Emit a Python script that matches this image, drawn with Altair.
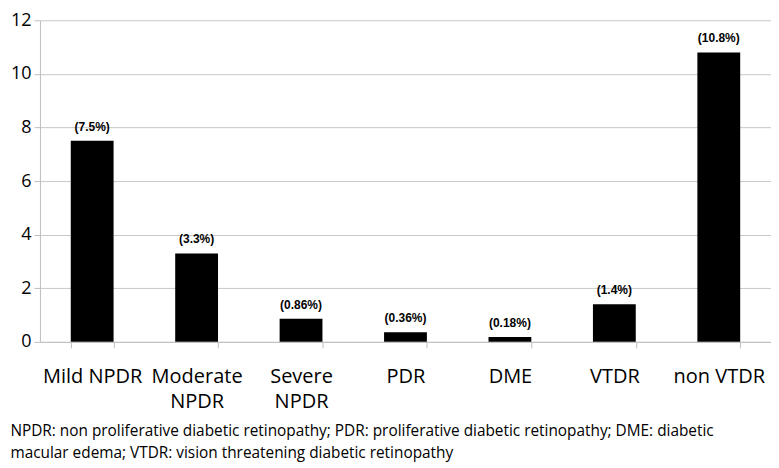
import altair as alt
import pandas as pd

categories = ["Mild NPDR", "Moderate|NPDR", "Severe|NPDR", "PDR", "DME", "VTDR", "non VTDR"]
values = [7.5, 3.3, 0.86, 0.36, 0.18, 1.4, 10.8]
labels = ["(7.5%)", "(3.3%)", "(0.86%)", "(0.36%)", "(0.18%)", "(1.4%)", "(10.8%)"]
y_ticks = [0, 2, 4, 6, 8, 10, 12]
footnote = [
    "NPDR: non proliferative diabetic retinopathy; PDR: proliferative diabetic retinopathy; DME: diabetic",
    "macular edema; VTDR: vision threatening diabetic retinopathy",
]

df = pd.DataFrame({"cat": categories, "value": values, "label": labels})

x = alt.X(
    "cat:N",
    sort=categories,
    axis=alt.Axis(
        title=None,
        labelAngle=0,
        labelExpr="split(datum.label, '|')",
        labelFont="Open Sans",
        labelFontSize=20,
        labelColor="#000000",
        labelPadding=19,
        labelLineHeight=25,
        tickBand="extent",
        tickSize=6,
        tickColor="#bfbfbf",
        domainColor="#bfbfbf",
        grid=False,
    ),
    scale=alt.Scale(paddingInner=0.59, paddingOuter=0.295),
)
y = alt.Y(
    "value:Q",
    scale=alt.Scale(domain=[0, 12], nice=False),
    axis=alt.Axis(
        title=None,
        values=y_ticks,
        labelFont="Open Sans",
        labelFontSize=18,
        labelColor="#000000",
        labelPadding=3,
        tickSize=6,
        tickColor="#bfbfbf",
        domainColor="#bfbfbf",
        gridColor="#c8c8c8",
        grid=True,
    ),
)

bars = alt.Chart(df).mark_bar(color="#000000").encode(x=x, y=y)
text = alt.Chart(df).mark_text(
    font="Liberation Sans", fontWeight="bold", fontSize=12, dy=-14, baseline="middle", color="#000000"
).encode(x=alt.X("cat:N", sort=categories), y="value:Q", text="label:N")

chart = (
    alt.layer(bars, text)
    .properties(
        width=732,
        height=322,
        padding={"top": 3, "left": 2, "right": 0, "bottom": 0},
        title=alt.TitleParams(
            text=footnote,
            orient="bottom",
            anchor="start",
            frame="bounds",
            dx=0,
            font="Open Sans",
            fontSize=15.4,
            fontWeight="normal",
            color="#000000",
            lineHeight=22,
            offset=12,
        ),
    )
    .configure_view(stroke=None)
    .configure_axis(labelFlush=False)
)

chart.save("out.html", embed_options={"renderer": "svg", "actions": False})
